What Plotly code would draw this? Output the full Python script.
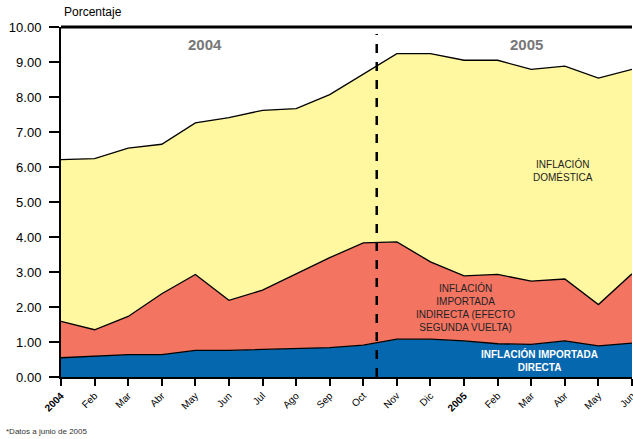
import plotly.graph_objects as go

months = ["2004", "Feb", "Mar", "Abr", "May", "Jun", "Jul", "Ago", "Sep", "Oct",
          "Nov", "Dic", "2005", "Feb", "Mar", "Abr", "May", "Jun"]
# cumulative levels
directa_top = [0.55, 0.59, 0.64, 0.64, 0.76, 0.76, 0.79, 0.81, 0.84, 0.91,
               1.08, 1.08, 1.03, 0.95, 0.93, 1.03, 0.89, 0.97]
indirecta_top = [1.59, 1.35, 1.73, 2.38, 2.93, 2.19, 2.48, 2.95, 3.41, 3.83,
                 3.86, 3.29, 2.89, 2.93, 2.74, 2.80, 2.07, 2.95]
total = [6.21, 6.24, 6.54, 6.65, 7.26, 7.41, 7.62, 7.67, 8.07, 8.65,
         9.24, 9.24, 9.05, 9.05, 8.79, 8.88, 8.54, 8.79]

directa = directa_top
indirecta = [round(b - a, 2) for a, b in zip(directa_top, indirecta_top)]
domestica = [round(c - b, 2) for b, c in zip(indirecta_top, total)]

x = list(range(len(months)))

fig = go.Figure()
for name, vals, col in [("Directa", directa, "#0567AE"),
                        ("Indirecta", indirecta, "#F47462"),
                        ("Doméstica", domestica, "#FFF8A0")]:
    fig.add_trace(go.Scatter(x=x, y=vals, stackgroup="one", mode="lines",
                             line=dict(color="black", width=1.3),
                             fillcolor=col, name=name, showlegend=False))

fig.add_shape(type="line", x0=9.4, x1=9.4, y0=0, y1=9.8, xref="x", yref="y",
              line=dict(color="black", width=2.5, dash="dash"))

L, R, T, B = 61, 1, 27, 62
W, H = 633, 439
font = "Liberation Sans, Arial, sans-serif"
fig.update_layout(
    width=W, height=H,
    margin=dict(l=L, r=R, t=T, b=B, autoexpand=False),
    plot_bgcolor="white", paper_bgcolor="white",
    font=dict(family=font, color="black"),
    xaxis=dict(range=[0, 17], tickvals=x,
               ticktext=[f"<b>{m}</b>" if m in ("2004", "2005") else m for m in months],
               tickangle=-45, tickfont=dict(size=10), ticks="outside", ticklen=7,
               tickwidth=2, tickcolor="black", showline=True, linecolor="black",
               linewidth=2, mirror=False, showgrid=False, zeroline=False,
               automargin=False, ticklabeloverflow="allow"),
    yaxis=dict(range=[0, 10], tickvals=list(range(11)), tickformat=".2f",
               tickfont=dict(size=13), ticks="outside", ticklen=10, tickwidth=2,
               ticklabelstandoff=5,
               tickcolor="black", showline=True, linecolor="black", linewidth=2,
               showgrid=False, zeroline=False, automargin=False),
)
fig.add_shape(type="line", x0=0, x1=1, y0=1, y1=1, xref="paper", yref="paper",
              line=dict(color="black", width=3))

# positions given in page pixels of the reference
ann = [
    ("Porcentaje", 62, 12, 12, "black", "left"),
    ("<b>2004</b>", 205, 45, 15, "#777777", "center"),
    ("<b>2005</b>", 526, 44, 15, "#777777", "center"),
    ("INFLACIÓN<br>DOMÉSTICA", 563, 170, 10, "#222222", "center"),
    ("INFLACIÓN<br>IMPORTADA<br>INDIRECTA (EFECTO<br>SEGUNDA VUELTA)", 465, 307, 10, "#222222", "center"),
    ("<b>INFLACIÓN IMPORTADA<br>DIRECTA</b>", 539, 360, 10, "white", "center"),
    ("*Datos a junio de 2005", 4, 431, 8, "#333333", "left"),
]
pw, ph = W - L - R, H - T - B
for text, px, py, size, color, xa in ann:
    fig.add_annotation(text=text, x=(px - L) / pw, y=(H - B - py) / ph,
                       xref="paper", yref="paper", xanchor=xa, yanchor="middle",
                       showarrow=False, font=dict(size=size, color=color, family=font),
                       align="center")

fig.write_html("out.html", config={"displayModeBar": False},
               post_script="document.body.style.margin='0';document.body.style.overflow='hidden';")
